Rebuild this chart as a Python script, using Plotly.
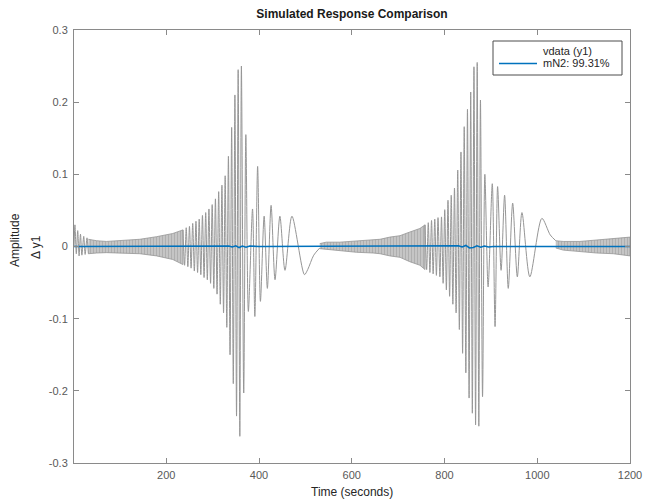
import plotly.graph_objects as go

# ---------------- data ----------------
# initial transient of the measured output (time, value of successive extremes)
t_start = [1, 3, 6, 9, 12, 15, 18, 22, 25, 29, 32]
v_start = [0.0, 0.030, -0.010, 0.022, -0.013, 0.017, -0.012, 0.014, -0.011, 0.012, -0.010]

# dense high-frequency parts: upper / lower envelope of the measured output
band1_t = [32, 50, 71, 106, 143, 179, 214, 236]
band1_hi = [0.010, 0.008, 0.007, 0.008, 0.010, 0.0136, 0.018, 0.023]
band1_lo = [-0.010, -0.009, -0.0085, -0.009, -0.010, -0.013, -0.018, -0.025]

band2_t = [531, 545, 574, 610, 646, 661, 682, 704, 725, 747, 758]
band2_hi = [0.004, 0.006, 0.006, 0.008, 0.009, 0.010, 0.013, 0.015, 0.020, 0.025, 0.030]
band2_lo = [-0.003, -0.004, -0.006, -0.008, -0.009, -0.010, -0.013, -0.015, -0.021, -0.026, -0.032]

band3_t = [1040, 1056, 1092, 1128, 1164, 1200]
band3_hi = [0.008, 0.007, 0.007, 0.009, 0.010, 0.013]
band3_lo = [-0.002, -0.005, -0.007, -0.009, -0.010, -0.013]

# first burst: successive extremes (time, value)
burst1_t = [236, 239.5, 243, 246.5, 250, 253.5, 257, 260.5, 264, 267.5, 271, 274.5,
            278, 281.5, 285, 288.5, 292, 295.5, 299, 302.5, 306, 309.5, 313, 316.5,
            320, 323.5, 327, 330.5, 334, 337.5, 341, 344.5, 348, 351.5, 355, 358.6,
            362, 367, 371.6, 377, 386, 391, 397, 403, 411, 418, 426, 434.5, 445, 456,
            471, 498, 505, 518, 531]
burst1_v = [0.023, -0.026, 0.026, -0.028, 0.028, -0.030, 0.032, -0.034, 0.035, -0.036, 0.038, -0.039,
            0.043, -0.043, 0.047, -0.046, 0.052, -0.051, 0.058, -0.058, 0.066, -0.066, 0.076, -0.080,
            0.085, -0.092, 0.098, -0.112, 0.125, -0.150, 0.165, -0.190, 0.210, -0.235, 0.245, -0.263,
            0.250, -0.203, 0.155, -0.090, 0.052, -0.097, 0.111, -0.076, 0.042, -0.058, 0.057, -0.046, 0.042, -0.033,
            0.042, -0.039, -0.032, -0.012, -0.002]

# second burst: successive extremes (time, value)
burst2_t = [758, 761.5, 765, 768.5, 772, 775.5, 779, 782.5, 786, 790, 793.5, 797, 800.5,
            804, 807.5, 811, 814.5, 818, 821.5, 825, 828.5, 832, 835.5, 839, 842.5, 846,
            849.5, 853, 856.5, 860, 863.5, 867, 870.5, 874, 877.5, 882, 887, 894, 903,
            909, 914.5, 922, 929.6, 937.5, 947, 957, 967, 984, 1010, 1028, 1040]
burst2_v = [0.030, -0.032, 0.033, -0.036, 0.036, -0.038, 0.038, -0.040, 0.040, -0.042, 0.041, -0.051, 0.051,
            -0.060, 0.064, -0.069, 0.071, -0.080, 0.081, -0.092, 0.106, -0.115, 0.131, -0.148, 0.166, -0.175,
            0.190, -0.210, 0.214, -0.231, 0.249, -0.247, 0.255, -0.249, 0.203, -0.208, 0.100, -0.056, 0.087,
            -0.111, 0.083, -0.033, 0.071, -0.058, 0.060, -0.042, 0.047, -0.042, 0.039, 0.016, 0.008]

# simulated model output mN2
model_t = [1, 320, 335, 342, 350, 357, 364, 372, 380, 400, 520, 820, 830, 838, 846,
           854, 862, 870, 878, 886, 895, 905, 1200]
model_v = [0.0, 0.0, 0.0007, -0.0007, 0.001, -0.0015, 0.0007, -0.001, 0.0007, 0.0, 0.0, 0.0, 0.001,
           -0.0007, 0.0015, -0.002, -0.0015, 0.001, -0.001, 0.0007, -0.0007, 0.0, 0.0]

x_ticks = [200, 400, 600, 800, 1000, 1200]
y_ticks = [-0.3, -0.2, -0.1, 0, 0.1, 0.2, 0.3]
y_ticktext = ["-0.3", "-0.2", "-0.1", "0", "0.1", "0.2", "0.3"]

legend_names = ["vdata (y1)", "mN2: 99.31%"]

GRAY = "rgb(150,150,150)"
BLUE = "#0072BD"

# ---------------- geometry (page pixels; the page body adds an 8 px offset) ----------------
W, H = 647, 493
ML, MR, MT, MB = 66, 25, 22, 38
PW, PH = W - ML - MR, H - MT - MB
OFF = 8


def px(x):
    return (x - OFF - ML) / PW


def py(y):
    return (H - MB - (y - OFF)) / PH


fig = go.Figure()

for bt, bh, bl in [(band1_t, band1_hi, band1_lo),
                   (band2_t, band2_hi, band2_lo),
                   (band3_t, band3_hi, band3_lo)]:
    fig.add_trace(go.Scatter(x=bt + bt[::-1], y=bh + bl[::-1], mode="lines",
                             fill="toself", fillcolor="rgb(200,200,200)",
                             fillpattern=dict(shape="|", size=3, solidity=0.5,
                                              fgcolor="rgb(145,145,145)",
                                              bgcolor="rgb(205,205,205)"),
                             line=dict(color=GRAY, width=0.8), showlegend=False,
                             hoverinfo="skip"))

for tt, vv in [(t_start, v_start), (burst1_t, burst1_v), (burst2_t, burst2_v)]:
    fig.add_trace(go.Scatter(x=tt, y=vv, mode="lines",
                             line=dict(color=GRAY, width=1, shape="spline", smoothing=0.8),
                             showlegend=False, name=legend_names[0]))

fig.add_trace(go.Scatter(x=model_t, y=model_v, mode="lines", name=legend_names[1],
                         line=dict(color=BLUE, width=1.6), showlegend=False))

axis_common = dict(showgrid=False, zeroline=False, showline=True, linecolor="#8a8a8a",
                   linewidth=1, mirror="ticks", ticks="inside", ticklen=5,
                   tickcolor="#8a8a8a", tickfont=dict(size=11, color="#595959"))

fig.update_xaxes(range=[1, 1200], tickvals=x_ticks, ticklabelstandoff=2, **axis_common)
fig.update_yaxes(range=[-0.3, 0.3], tickvals=y_ticks, ticktext=y_ticktext,
                 ticklabelstandoff=3, **axis_common)

# hand-drawn legend box (MATLAB style, compact rows)
shapes = [
    dict(type="rect", xref="paper", yref="paper", x0=px(493), x1=px(622), y0=py(75), y1=py(41),
         line=dict(color="#4d4d4d", width=1), fillcolor="white", layer="above"),
    dict(type="line", xref="paper", yref="paper", x0=px(499), x1=px(537), y0=py(63.5), y1=py(63.5),
         line=dict(color=BLUE, width=1.6), layer="above"),
]

annotations = [
    dict(text=legend_names[0], x=px(541), y=py(50.5), xref="paper", yref="paper",
         showarrow=False, xanchor="left", yanchor="middle",
         font=dict(size=11, color="#262626")),
    dict(text=legend_names[1], x=px(541), y=py(63.5), xref="paper", yref="paper",
         showarrow=False, xanchor="left", yanchor="middle",
         font=dict(size=11, color="#262626")),
    dict(text="Time (seconds)", x=0.5, y=py(492), xref="paper", yref="paper",
         showarrow=False, xanchor="center", yanchor="middle",
         font=dict(size=12, color="#262626")),
    dict(text="Δ y1", x=px(36), y=py(247), xref="paper", yref="paper",
         showarrow=False, textangle=-90, xanchor="center", yanchor="middle",
         font=dict(size=12, color="#262626")),
    dict(text="Amplitude", x=px(15), y=py(240), xref="paper", yref="paper",
         showarrow=False, textangle=-90, xanchor="center", yanchor="middle",
         font=dict(size=12, color="#262626")),
]

fig.update_layout(
    width=W, height=H,
    margin=dict(l=ML, r=MR, t=MT, b=MB),
    plot_bgcolor="white", paper_bgcolor="white",
    font=dict(family="Liberation Sans, Arial, sans-serif", size=11, color="#262626"),
    title=dict(text="<b>Simulated Response Comparison</b>", x=0.5, xref="paper",
               xanchor="center", y=1 - (13.5 - OFF) / H, yref="container", yanchor="middle",
               font=dict(size=12, color="#1a1a1a")),
    showlegend=False,
    shapes=shapes,
    annotations=annotations,
)

fig.write_html("out.html")
